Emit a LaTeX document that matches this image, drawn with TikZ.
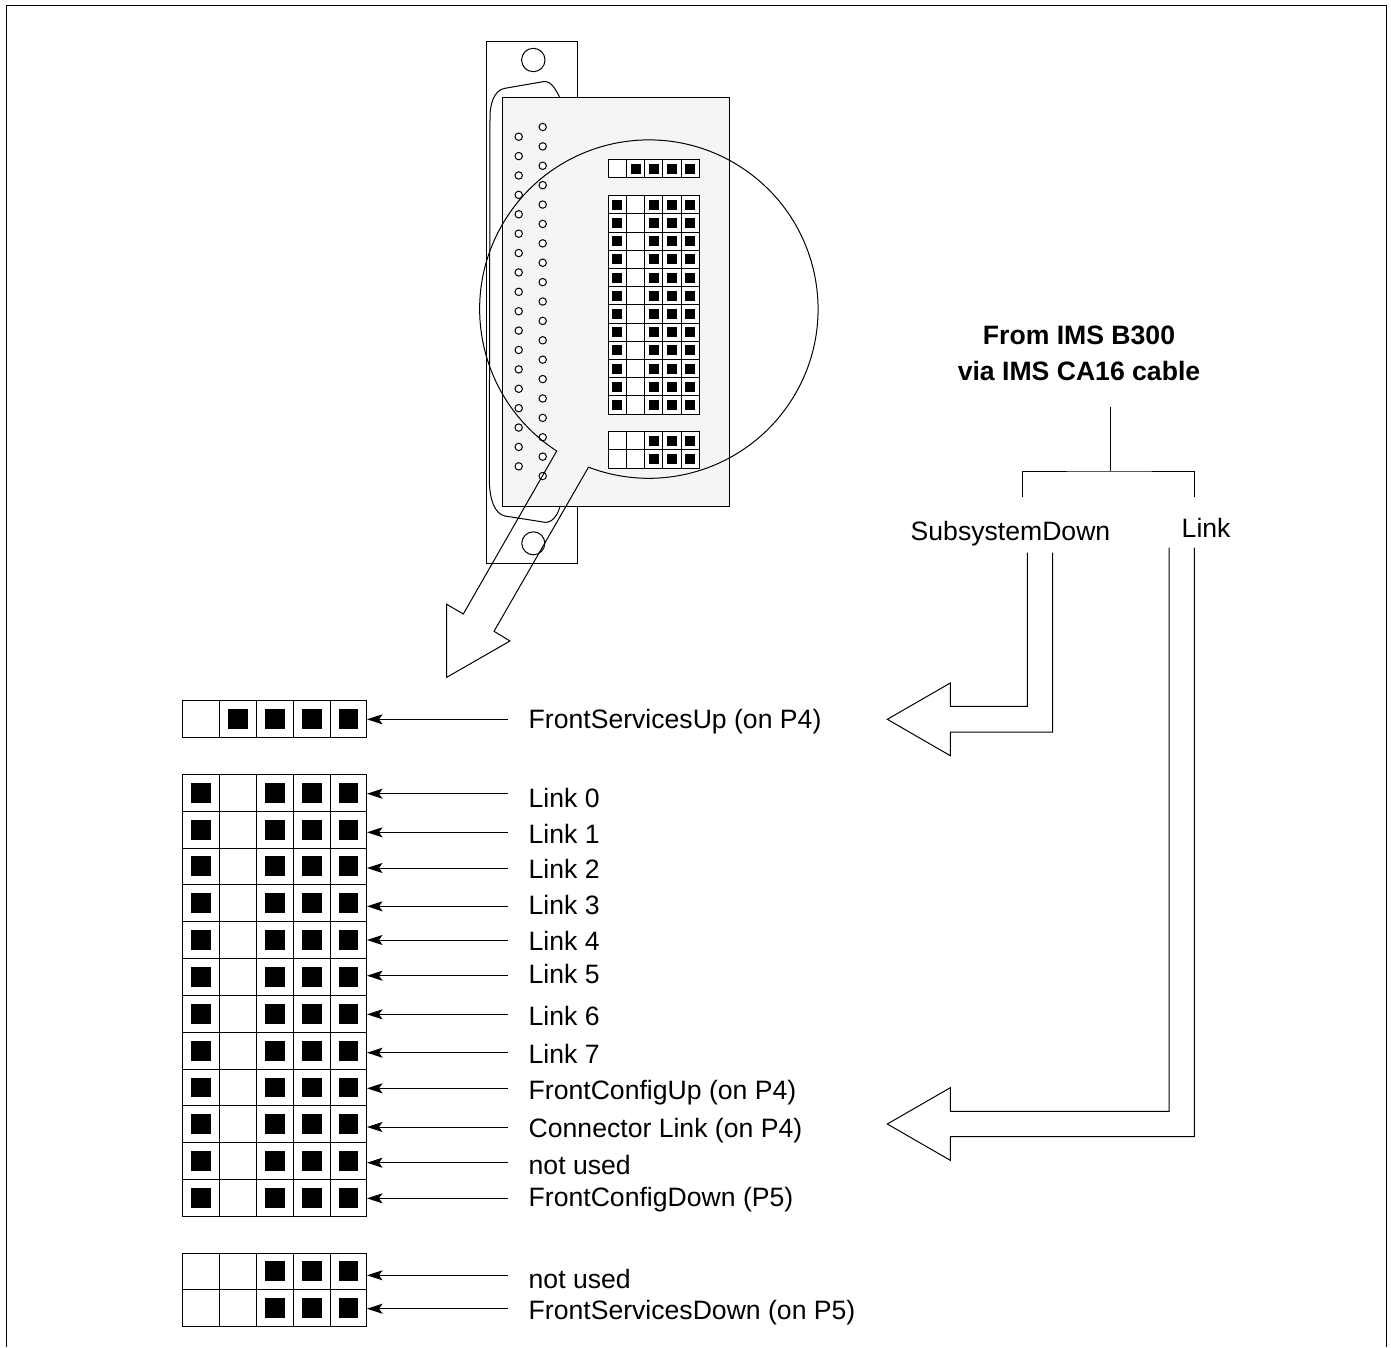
\documentclass[tikz,border=0pt]{standalone}
\usepackage{fontspec}
\setmainfont{Liberation Sans}
\usetikzlibrary{arrows.meta}

\tikzset{
  line/.style={black,line width=1pt},
  pin/.style={line,fill=white},
  cell/.style={line,fill=white},
  pointer/.style={line,-{Stealth[length=15.5pt,width=10pt,inset=3.5pt]}},
  label/.style={anchor=base west,inner sep=0pt,font=\fontsize{26.6}{31}\selectfont},
  heading/.style={anchor=base,inner sep=0pt,font=\fontsize{26.6}{31}\selectfont\bfseries}
}

% left, top, cell size, number of rows, filled columns
\newcommand{\jumperblock}[5]{
  \foreach \row in {1,...,#4}{
    \foreach \col in {1,...,5}{
      \draw[cell] ({#1+(\col-1)*#3},{#2+(\row-1)*#3}) rectangle ++(#3,#3);
    }
    \foreach \col in {#5}{
      \fill[black] ({#1+(\col-0.5)*#3-0.27*#3},{#2+(\row-0.5)*#3-0.27*#3}) rectangle ++({0.54*#3},{0.54*#3});
    }
  }
}

\begin{document}
\begin{tikzpicture}[x=1pt,y=-1pt]

\useasboundingbox (0,0) rectangle (1391,1347);

% frame, open at the bottom
\draw[line] (6,1347) -- (6,5) -- (1386.7,5) -- (1386.7,1347);

% plate with its two holes
\draw[line] (486.7,41) rectangle (577.5,563);
\draw[line] (533.3,60) circle (11.7);
\draw[line] (533.3,543.3) circle (11.5);

% connector shell
\draw[line] (560,98) .. controls (556,90) and (551,80) .. (543,81.7) -- (505,88.3)
  .. controls (494,90) and (490,104) .. (490,117) -- (489.3,480)
  .. controls (489.5,500) and (495,514) .. (505,516) -- (545,522.3)
  .. controls (552,523) and (558,515) .. (560,506);

% board
\draw[line,fill=black!4] (502.3,97.7) rectangle (729.3,506);

\foreach \i in {0,...,17}
  \draw[pin] (518.7,{136.7+\i*19.39}) circle (3.7);
\foreach \i in {0,...,18}
  \draw[pin] (542.7,{127+\i*19.39}) circle (3.7);

% jumpers on the board
\jumperblock{608.3}{159.7}{18.2}{1}{2,3,4,5}
\jumperblock{608.3}{195.7}{18.2}{12}{1,3,4,5}
\jumperblock{608.3}{431.7}{18.2}{2}{3,4,5}

% magnified view, circle running into the big arrow
\draw[line] (556.7,451) arc (123:470.9:169.2)
  -- (494,631.3) -- (510,641) -- (446.7,677.3) -- (446.7,604.3) -- (463.3,614) -- cycle;

% jumpers enlarged
\jumperblock{182.7}{700.5}{36.85}{1}{2,3,4,5}
\jumperblock{182.7}{774.3}{36.85}{12}{1,3,4,5}
\jumperblock{182.7}{1253}{36.85}{2}{3,4,5}

% n / arrow y / text y / text
\foreach \n/\ya/\yb/\txt in {
  0/719.3/728/{FrontServicesUp (on P4)},
  1/793.7/807.4/{Link 0},
  2/832.3/843.4/{Link 1},
  3/868/878.4/{Link 2},
  4/906.3/914.4/{Link 3},
  5/940/950.7/{Link 4},
  6/975.7/983.4/{Link 5},
  7/1014.3/1025/{Link 6},
  8/1052.7/1063.4/{Link 7},
  9/1088.3/1099/{FrontConfigUp (on P4)},
  10/1127/1137.7/{Connector Link (on P4)},
  11/1162.7/1174/{not used},
  12/1198.3/1206.4/{FrontConfigDown (P5)},
  13/1275.3/1288.4/{not used},
  14/1308.7/1319/{FrontServicesDown (on P5)}}{
  \node[label] (lab\n) at (528.5,\yb) {\txt};
  \coordinate (tail\n) at (507.7,\ya);
  \coordinate (head\n) at (367,\ya);
  \draw[pointer] (tail\n) -- (head\n);
}

% cable side
\node[heading] (from) at (1079,344.3) {From IMS B300};
\node[heading] (via) at (1079,380) {via IMS CA16 cable};
\node[label] (subsys) at (910.5,540) {SubsystemDown};
\node[label] (link) at (1181.5,537.5) {Link};

\coordinate (stem) at (1110,406.7);
\coordinate (fork) at (1110,471);
\coordinate (forkl) at (1022.7,496.7);
\coordinate (forkr) at (1194.3,496.7);
\draw[line] (stem) -- (fork);
\draw[line] (forkl) |- (fork) -| (forkr);

\draw[line] (1027.3,552.7) -- (1027.3,706.3) -- (950.3,706.3) -- (950.3,683) -- (887.3,719.3)
  -- (950.3,755.7) -- (950.3,732) -- (1052.7,732) -- (1052.7,552.7);
\draw[line] (1169,547.7) -- (1169,1111.3) -- (950.3,1111.3) -- (950.3,1087.7) -- (887.3,1124)
  -- (950.3,1160.3) -- (950.3,1136.7) -- (1194.3,1136.7) -- (1194.3,547.7);

\end{tikzpicture}
\end{document}
